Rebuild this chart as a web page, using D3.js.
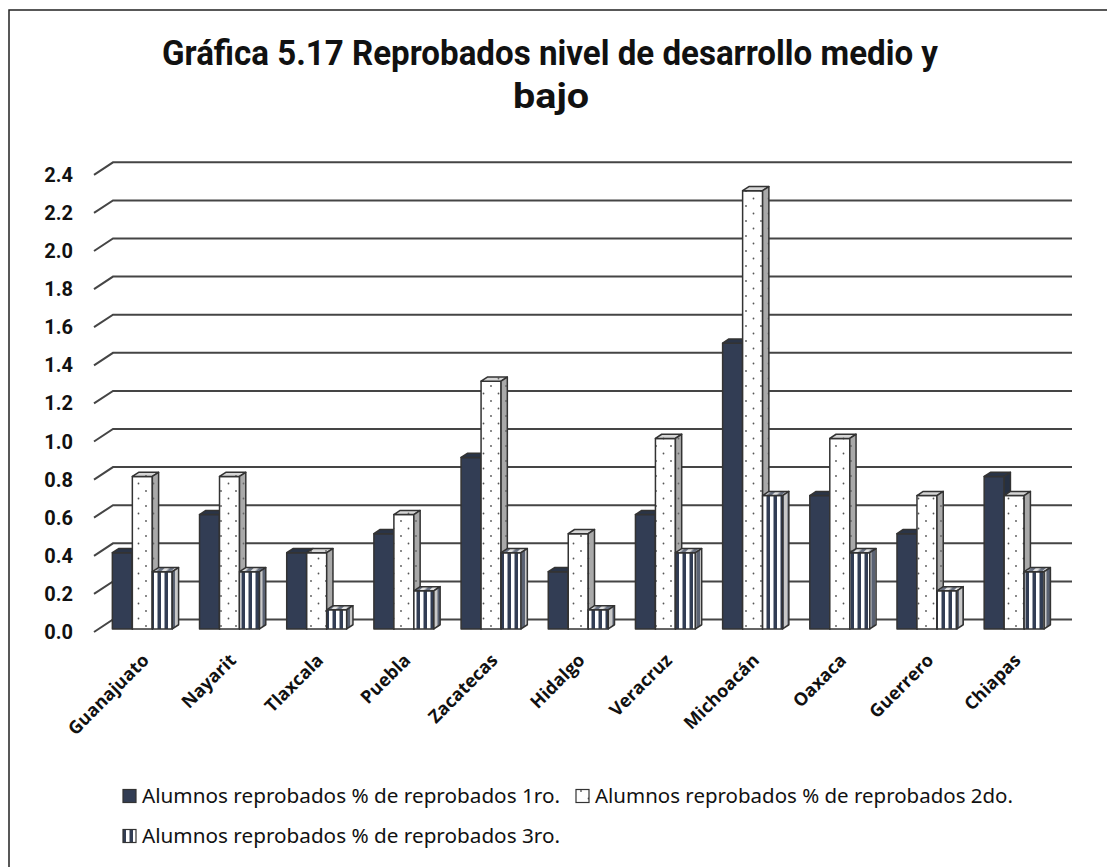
<!DOCTYPE html>
<html>
<head>
<meta charset="utf-8">
<script src="https://cdn.jsdelivr.net/npm/d3@7"></script>
<style>
  body { margin: 0; background: #fff; }
</style>
</head>
<body>
<div id="chart"></div>
<script>
const width = 1107;
const height = 867;

const categories = ["Guanajuato", "Nayarit", "Tlaxcala", "Puebla", "Zacatecas", "Hidalgo",
  "Veracruz", "Michoacán", "Oaxaca", "Guerrero", "Chiapas"];
const seriesNames = [
  "Alumnos reprobados % de reprobados 1ro.",
  "Alumnos reprobados % de reprobados 2do.",
  "Alumnos reprobados % de reprobados 3ro."
];
const primero = [0.4, 0.6, 0.4, 0.5, 0.9, 0.3, 0.6, 1.5, 0.7, 0.5, 0.8];
const segundo = [0.8, 0.8, 0.4, 0.6, 1.3, 0.5, 1.0, 2.3, 1.0, 0.7, 0.7];
const tercero = [0.3, 0.3, 0.1, 0.2, 0.4, 0.1, 0.4, 0.7, 0.4, 0.2, 0.3];
const yTicks = [0, 0.2, 0.4, 0.6, 0.8, 1.0, 1.2, 1.4, 1.6, 1.8, 2.0, 2.2, 2.4];

const seriesValues = [primero, segundo, tercero];
const navy = "#323d54";
const edge = "#333";

// 3d geometry: wall depth vector and bar depth placement
const wallDx = 19, wallDy = -12.5;
const barFront = 0.25, barBack = 0.58;

const svg = d3.select("#chart").append("svg")
  .attr("width", width)
  .attr("height", height);

const defs = svg.append("defs");

function dotPattern(id, bg, dot) {
  const p = defs.append("pattern").attr("id", id)
    .attr("patternUnits", "userSpaceOnUse").attr("width", 15).attr("height", 15);
  p.append("rect").attr("width", 15).attr("height", 15).attr("fill", bg);
  p.append("circle").attr("cx", 3.5).attr("cy", 3.5).attr("r", 0.9).attr("fill", dot);
  p.append("circle").attr("cx", 11).attr("cy", 11).attr("r", 0.9).attr("fill", dot);
}
function stripePattern(id, bg, fg, angle) {
  const p = defs.append("pattern").attr("id", id)
    .attr("patternUnits", "userSpaceOnUse").attr("width", 7).attr("height", 7)
    .attr("patternTransform", angle ? `rotate(${angle})` : null);
  p.append("rect").attr("width", 7).attr("height", 7).attr("fill", bg);
  p.append("rect").attr("x", 3.5).attr("width", 3.5).attr("height", 7).attr("fill", fg);
}
dotPattern("dots", "#ffffff", "#555");
dotPattern("dotsSide", "#a9a9a9", "#666");
dotPattern("dotsTop", "#d6d6d6", "#666");
stripePattern("stripes", "#ffffff", navy, 0);
stripePattern("stripesSide", "#c8c8c8", "#5a6273", 0);
stripePattern("stripesTop", "#e0e0e0", "#6a7283", 45);

const fills = [
  { front: navy, top: "#2a3447", side: "#263042" },
  { front: "url(#dots)", top: "url(#dotsTop)", side: "url(#dotsSide)" },
  { front: "url(#stripes)", top: "url(#stripesTop)", side: "url(#stripesSide)" }
];

// chart frame (only top and left edges fall inside the picture)
svg.append("path")
  .attr("d", `M9,${height} V10 H${width}`)
  .attr("fill", "none").attr("stroke", "#222").attr("stroke-width", 1.5);

// title
const title = svg.append("g")
  .attr("font-family", "Roboto, sans-serif")
  .attr("font-weight", "bold")
  .attr("font-size", 35)
  .attr("fill", "#111")
  .attr("text-anchor", "middle");
title.append("text").attr("x", 550).attr("y", 65)
  .attr("textLength", 776).attr("lengthAdjust", "spacingAndGlyphs")
  .text("Gráfica 5.17 Reprobados nivel de desarrollo medio y");
title.append("text").attr("x", 551).attr("y", 108)
  .attr("textLength", 76).attr("lengthAdjust", "spacingAndGlyphs")
  .text("bajo");

// scales on the front plane
const x = d3.scaleBand().domain(categories).range([94, 1053]).paddingInner(0.312).paddingOuter(0.156);
const xs = d3.scaleBand().domain(d3.range(3)).range([0, x.bandwidth()]);
const y = d3.scaleLinear().domain([0, 2.4]).range([632, 632 - 2.4 * 190.5]);

// gridlines: left wall diagonal + back wall horizontal
const grid = svg.append("g").attr("stroke", "#454545").attr("stroke-width", 2).attr("fill", "none");
grid.selectAll("path").data(yTicks).join("path")
  .attr("d", d => `M${94},${y(d)} L${94 + wallDx},${y(d) + wallDy} H${1053 + wallDx}`);

svg.append("g")
  .attr("font-family", "Roboto, sans-serif")
  .attr("font-weight", "bold").attr("font-size", 20).attr("fill", "#111")
  .attr("text-anchor", "end")
  .selectAll("text").data(yTicks).join("text")
  .attr("x", 73).attr("y", d => y(d)).attr("dy", "0.35em")
  .text(d => d3.format(".1f")(d));

// bars
const bars = svg.append("g").attr("stroke", edge).attr("stroke-width", 1.5).attr("stroke-linejoin", "round");
const fdx = wallDx * barFront, fdy = wallDy * barFront;
const bdx = wallDx * (barBack - barFront), bdy = wallDy * (barBack - barFront);

categories.forEach((c, ci) => {
  seriesValues.forEach((vals, si) => {
    const xl = x(c) + xs(si) + fdx;
    const w = xs.bandwidth();
    const yt = y(vals[ci]) + fdy;
    const yb = y(0) + fdy;
    const g = bars.append("g");
    g.append("path")
      .attr("d", `M${xl},${yt} H${xl + w} V${yb} H${xl} Z`)
      .attr("fill", fills[si].front);
    g.append("path")
      .attr("d", `M${xl},${yt} L${xl + bdx},${yt + bdy} H${xl + w + bdx} L${xl + w},${yt} Z`)
      .attr("fill", fills[si].top);
    g.append("path")
      .attr("d", `M${xl + w},${yt} L${xl + w + bdx},${yt + bdy} V${yb + bdy} L${xl + w},${yb} Z`)
      .attr("fill", fills[si].side);
  });
});

// category labels
svg.append("g")
  .attr("font-family", "'Open Sans', sans-serif")
  .attr("font-weight", "bold").attr("font-size", 18).attr("fill", "#111")
  .attr("text-anchor", "end")
  .selectAll("text").data(categories).join("text")
  .attr("transform", d => `translate(${x(d) + x.bandwidth() / 2 + 8},${657}) rotate(-45)`)
  .attr("dy", "0.35em")
  .text(d => d);

// legend
const legendItems = [
  { name: seriesNames[0], x: 123, y: 796 },
  { name: seriesNames[1], x: 576, y: 796 },
  { name: seriesNames[2], x: 123, y: 836 }
];
const legend = svg.append("g")
  .attr("font-family", "'Noto Sans', sans-serif").attr("font-size", 20).attr("fill", "#111");
legendItems.forEach((item, i) => {
  legend.append("rect")
    .attr("x", item.x).attr("y", item.y - 6.5).attr("width", 13).attr("height", 13)
    .attr("fill", fills[i].front).attr("stroke", edge).attr("stroke-width", 1.2);
  legend.append("text")
    .attr("x", item.x + 19).attr("y", item.y).attr("dy", "0.35em")
    .attr("textLength", 418).attr("lengthAdjust", "spacingAndGlyphs")
    .text(item.name);
});
</script>
</body>
</html>
